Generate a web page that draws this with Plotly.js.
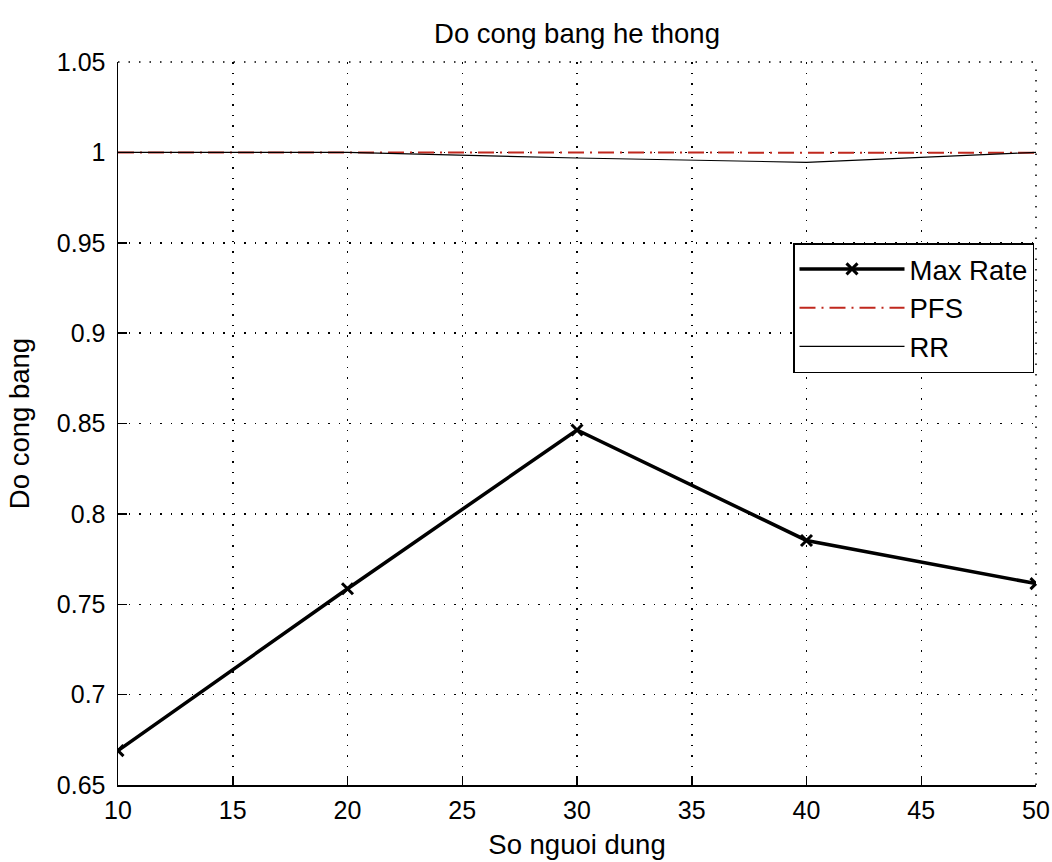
<!DOCTYPE html>
<html>
<head>
<meta charset="utf-8">
<script src="https://cdn.plot.ly/plotly-3.0.1.min.js"></script>
<style>
  html, body { margin: 0; padding: 0; background: #ffffff; }
  #chart { width: 1052px; height: 862px; }
</style>
</head>
<body>
<div id="chart"></div>
<script>
// Number of users on the x axis
const soNguoiDung = [10, 20, 30, 40, 50];

// Fairness index for each scheduler
const maxRate = [0.669, 0.7586, 0.8464, 0.7853, 0.7614];
const pfs     = [1.0, 1.0, 0.9998, 0.9998, 0.9998];
const rr      = [1.0, 1.0, 0.9969, 0.9945, 1.0];

const xTicks = [10, 15, 20, 25, 30, 35, 40, 45, 50];
const yTicks = [0.65, 0.7, 0.75, 0.8, 0.85, 0.9, 0.95, 1, 1.05];
const yTickText = ['0.65', '0.7', '0.75', '0.8', '0.85', '0.9', '0.95', '1', '1.05'];

const FONT = 'Liberation Sans, Arial, sans-serif';
const TEXT_SIZE = 27.5;
const TICK_SIZE = 25;

const traces = [
  {
    x: soNguoiDung, y: maxRate, name: 'Max Rate',
    type: 'scatter', mode: 'lines+markers',
    line: { color: '#000000', width: 3.5 },
    marker: { symbol: 'x-thin', size: 11, color: '#000000', line: { color: '#000000', width: 3 } }
  },
  {
    x: soNguoiDung, y: pfs, name: 'PFS',
    type: 'scatter', mode: 'lines',
    line: { color: '#c0281e', width: 2, dash: '16px,6px,2px,6px' }
  },
  {
    x: soNguoiDung, y: rr, name: 'RR',
    type: 'scatter', mode: 'lines',
    line: { color: '#000000', width: 1.2 }
  }
];

const GRID_DASH = '1.5px,9px';

const axisCommon = {
  showline: true, linecolor: '#000000', linewidth: 1.5,
  ticks: 'inside', ticklen: 9, tickwidth: 1.5, tickcolor: '#000000',
  showgrid: true, gridcolor: '#000000', gridwidth: 1.5, griddash: GRID_DASH,
  zeroline: false, mirror: false,
  tickfont: { family: FONT, size: TICK_SIZE, color: '#000000' }
};

const layout = {
  width: 1052, height: 862,
  paper_bgcolor: '#ffffff', plot_bgcolor: '#ffffff',
  margin: { l: 118, r: 16, t: 62, b: 77 },
  showlegend: true,
  title: {
    text: 'Do cong bang he thong',
    font: { family: FONT, size: TEXT_SIZE, color: '#000000' },
    x: 0.5, xref: 'paper', xanchor: 'center',
    y: 1 - 33 / 862, yref: 'container', yanchor: 'middle'
  },
  xaxis: Object.assign({}, axisCommon, {
    range: [10, 50], tickvals: xTicks, ticktext: xTicks.map(String),
    ticklabelstandoff: 2,
    title: { text: 'So nguoi dung', font: { family: FONT, size: TEXT_SIZE, color: '#000000' }, standoff: 12 }
  }),
  yaxis: Object.assign({}, axisCommon, {
    range: [0.65, 1.05], tickvals: yTicks, ticktext: yTickText,
    ticklabelstandoff: 6,
    title: { text: 'Do cong bang', font: { family: FONT, size: TEXT_SIZE, color: '#000000' }, standoff: 19 }
  }),
  // dotted frame on the top and right edges, continuing the grid
  shapes: [
    { type: 'line', xref: 'paper', yref: 'paper', x0: 0, x1: 1, y0: 1, y1: 1,
      line: { color: '#000000', width: 1.5, dash: GRID_DASH } },
    { type: 'line', xref: 'paper', yref: 'paper', x0: 1, x1: 1, y0: 0, y1: 1,
      line: { color: '#000000', width: 1.5, dash: GRID_DASH } }
  ],
  legend: {
    x: (1034 - 118) / 918, xanchor: 'right',
    y: (785 - 243) / 723, yanchor: 'top',
    bgcolor: '#ffffff', bordercolor: '#000000', borderwidth: 1.5,
    font: { family: FONT, size: TEXT_SIZE, color: '#000000' },
    itemwidth: 105
  }
};

Plotly.newPlot('chart', traces, layout, { staticPlot: true });
</script>
</body>
</html>
